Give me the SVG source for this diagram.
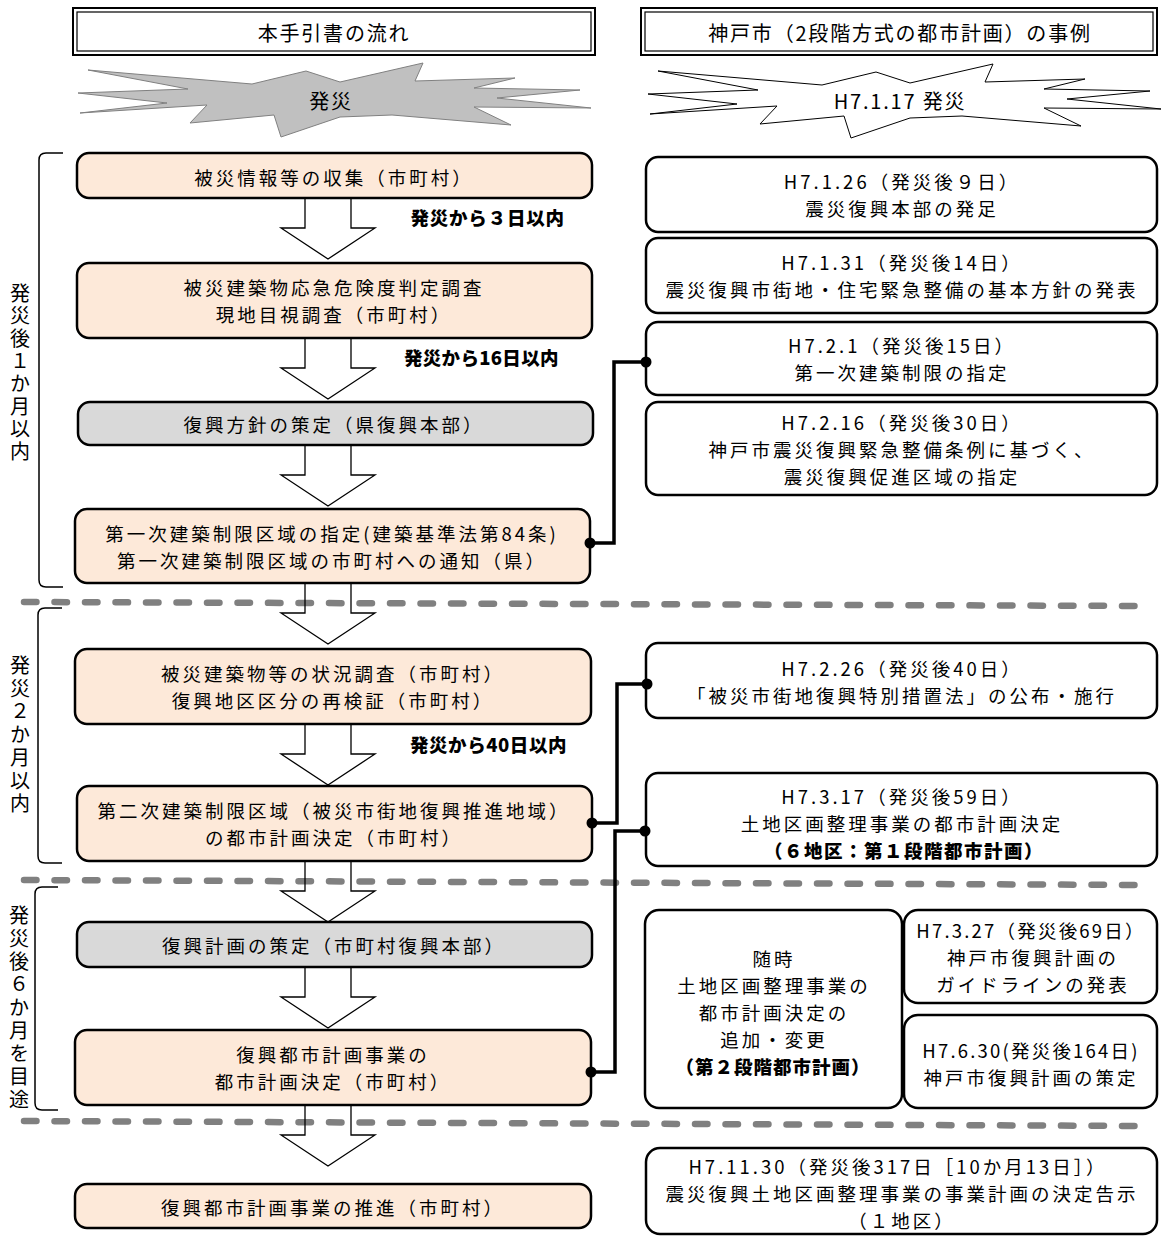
<svg xmlns="http://www.w3.org/2000/svg" width="1161" height="1236" viewBox="0 0 1161 1236">
<defs>
<style>
text { font-family: "Noto Sans CJK JP", "Noto Sans CJK SC", sans-serif; font-size: 18.5px; fill: #000; letter-spacing: 3px; }
.c { text-anchor: middle; dominant-baseline: central; }
.big { font-size: 20px; letter-spacing: 1.8px; }
.b { font-weight: 900; letter-spacing: 1.5px; }
.v { font-size: 20px; writing-mode: vertical-rl; text-orientation: upright; letter-spacing: 2.6px; }
.box { stroke: #000; stroke-width: 2.5; }
.peach { fill: #fde9d9; }
.gray { fill: #d9d9d9; }
.white { fill: #fff; }
.hdr { fill: #fff; stroke: #000; stroke-width: 2; }
.hdrin { fill: none; stroke: #000; stroke-width: 1.2; }
.arrow { fill: none; stroke: #000; stroke-width: 1.3; }
.dash { stroke: #808080; stroke-width: 6.5; stroke-dasharray: 12.5 18; stroke-linecap: round; fill: none; }
.conn { stroke: #000; stroke-width: 3.5; fill: none; }
.dot { fill: #000; }
.brk { stroke: #000; stroke-width: 1.5; fill: none; }
.stargray { fill: #c0c0c0; stroke: #808080; stroke-width: 1; }
.starwhite { fill: #fff; stroke: #000; stroke-width: 1; }
</style>
<polygon id="star" points="88,70 252,84 306,71 340,82 423,63 415,81 515,78 474,88 580,90 497,98 591,108 474,107 511,125 392,115 340,117 281,137 274,115 190,123 207,105 80,113 167,103 78,93 188,89"/>
<path id="arr" d="M-23,0 V30 H-47 L0,61 L47,30 H23 V0"/>
</defs>
<rect width="1161" height="1236" fill="#fff"/>

<!-- headers -->
<g id="header-left">
<rect class="hdr" x="73" y="8" width="522" height="47"/>
<rect class="hdrin" x="77" y="12" width="514" height="39"/>
<text class="c big" x="334" y="32">本手引書の流れ</text>
</g>
<g id="header-right">
<rect class="hdr" x="641" y="8" width="516" height="47"/>
<rect class="hdrin" x="645" y="12" width="508" height="39"/>
<text class="c big" x="900" y="32">神戸市（2段階方式の都市計画）の事例</text>
</g>

<!-- stars -->
<g id="star-left">
<use href="#star" class="stargray"/>
<text class="c big" x="331" y="100">発災</text>
</g>
<g id="star-right">
<use href="#star" class="starwhite" transform="translate(570,1)"/>
<text class="c big" x="900" y="100">H7.1.17 発災</text>
</g>

<!-- brackets -->
<g id="period-1">
<path class="brk" d="M63,153 H46 Q39,153 39,160 V580 Q39,587 46,587 H63"/>
<text class="v" x="20" y="283">発災後１か月以内</text>
</g>
<g id="period-2">
<path class="brk" d="M62,608 H45 Q38,608 38,615 V856 Q38,863 45,863 H62"/>
<text class="v" x="20" y="655" style="letter-spacing:3px">発災２か月以内</text>
</g>
<g id="period-3">
<path class="brk" d="M58,887 H42 Q35,887 35,894 V1103 Q35,1110 42,1110 H58"/>
<text class="v" x="19" y="905" style="letter-spacing:3px">発災後６か月を目途</text>
</g>

<!-- dashed separators -->
<g id="separators">
<path class="dash" d="M24,602 L1146,606"/>
<path class="dash" d="M24,880 L1146,885"/>
<path class="dash" d="M24,1121 L1146,1126"/>
</g>

<!-- left flow nodes -->
<g id="n1"><rect class="box peach" x="77" y="153" width="515" height="45" rx="12"/>
<text class="c" x="334" y="177">被災情報等の収集（市町村）</text></g>
<g id="n2"><rect class="box peach" x="77" y="263" width="515" height="75" rx="12"/>
<text class="c" x="334" y="287">被災建築物応急危険度判定調査</text>
<text class="c" x="334" y="314">現地目視調査（市町村）</text></g>
<g id="n3"><rect class="box gray" x="78" y="402" width="515" height="43" rx="12"/>
<text class="c" x="334" y="424">復興方針の策定（県復興本部）</text></g>
<g id="n4"><rect class="box peach" x="75" y="509" width="515" height="74" rx="12"/>
<text class="c" x="332" y="533">第一次建築制限区域の指定(建築基準法第84条)</text>
<text class="c" x="332" y="560">第一次建築制限区域の市町村への通知（県）</text></g>
<g id="n5"><rect class="box peach" x="75" y="649" width="516" height="75" rx="12"/>
<text class="c" x="333" y="673">被災建築物等の状況調査（市町村）</text>
<text class="c" x="333" y="700">復興地区区分の再検証（市町村）</text></g>
<g id="n6"><rect class="box peach" x="77" y="786" width="515" height="75" rx="12"/>
<text class="c" x="334" y="810">第二次建築制限区域（被災市街地復興推進地域）</text>
<text class="c" x="334" y="837">の都市計画決定（市町村）</text></g>
<g id="n7"><rect class="box gray" x="77" y="922" width="515" height="45" rx="12"/>
<text class="c" x="334" y="945">復興計画の策定（市町村復興本部）</text></g>
<g id="n8"><rect class="box peach" x="75" y="1030" width="516" height="75" rx="12"/>
<text class="c" x="333" y="1054">復興都市計画事業の</text>
<text class="c" x="333" y="1081">都市計画決定（市町村）</text></g>
<g id="n9"><rect class="box peach" x="75" y="1184" width="516" height="44" rx="12"/>
<text class="c" x="333" y="1207">復興都市計画事業の推進（市町村）</text></g>

<!-- deadline labels -->
<g id="label-3days"><text class="c b" x="488" y="217" textLength="155" lengthAdjust="spacing">発災から３日以内</text></g>
<g id="label-16days"><text class="c b" x="482" y="357" textLength="156" lengthAdjust="spacing">発災から16日以内</text></g>
<g id="label-40days"><text class="c b" x="489" y="744" textLength="158" lengthAdjust="spacing">発災から40日以内</text></g>

<!-- right column nodes -->
<g id="r1"><rect class="box white" x="646" y="157" width="511" height="75" rx="12"/>
<text class="c" x="902" y="181">H7.1.26（発災後９日）</text>
<text class="c" x="902" y="208">震災復興本部の発足</text></g>
<g id="r2"><rect class="box white" x="646" y="238" width="511" height="75" rx="12"/>
<text class="c" x="902" y="262">H7.1.31（発災後14日）</text>
<text class="c" x="902" y="289">震災復興市街地・住宅緊急整備の基本方針の発表</text></g>
<g id="r3"><rect class="box white" x="646" y="322" width="511" height="73" rx="12"/>
<text class="c" x="902" y="345">H7.2.1（発災後15日）</text>
<text class="c" x="902" y="372">第一次建築制限の指定</text></g>
<g id="r4"><rect class="box white" x="646" y="402" width="511" height="93" rx="12"/>
<text class="c" x="902" y="422">H7.2.16（発災後30日）</text>
<text class="c" x="902" y="449">神戸市震災復興緊急整備条例に基づく、</text>
<text class="c" x="902" y="476">震災復興促進区域の指定</text></g>
<g id="r5"><rect class="box white" x="646" y="643" width="511" height="75" rx="12"/>
<text class="c" x="902" y="668">H7.2.26（発災後40日）</text>
<text class="c" x="902" y="695">「被災市街地復興特別措置法」の公布・施行</text></g>
<g id="r6"><rect class="box white" x="646" y="773" width="511" height="93" rx="12"/>
<text class="c" x="902" y="796">H7.3.17（発災後59日）</text>
<text class="c" x="902" y="823">土地区画整理事業の都市計画決定</text>
<text class="c b" x="904" y="850">（６地区：第１段階都市計画）</text></g>
<g id="r7"><rect class="box white" x="645" y="910" width="257" height="198" rx="14"/>
<text class="c" x="774" y="958">随時</text>
<text class="c" x="774" y="985">土地区画整理事業の</text>
<text class="c" x="774" y="1012">都市計画決定の</text>
<text class="c" x="774" y="1039">追加・変更</text>
<text class="c b" x="773" y="1066" style="letter-spacing:1px">（第２段階都市計画）</text></g>
<g id="r8"><rect class="box white" x="904" y="910" width="253" height="93" rx="14"/>
<text class="c" x="1031" y="930" style="letter-spacing:2.2px">H7.3.27（発災後69日）</text>
<text class="c" x="1033" y="957">神戸市復興計画の</text>
<text class="c" x="1033" y="984">ガイドラインの発表</text></g>
<g id="r9"><rect class="box white" x="904" y="1015" width="253" height="93" rx="14"/>
<text class="c" x="1031" y="1050" style="letter-spacing:2.2px">H7.6.30(発災後164日)</text>
<text class="c" x="1031" y="1077">神戸市復興計画の策定</text></g>
<g id="r10"><rect class="box white" x="646" y="1148" width="511" height="86" rx="14"/>
<text class="c" x="898" y="1166">H7.11.30（発災後317日［10か月13日］）</text>
<text class="c" x="902" y="1193">震災復興土地区画整理事業の事業計画の決定告示</text>
<text class="c" x="902" y="1220">（１地区）</text></g>

<!-- connectors -->
<g id="connectors">
<use href="#arr" class="arrow" x="328" y="198"/>
<use href="#arr" class="arrow" x="328" y="338"/>
<use href="#arr" class="arrow" x="328" y="445"/>
<use href="#arr" class="arrow" x="328" y="583"/>
<use href="#arr" class="arrow" x="328" y="724"/>
<use href="#arr" class="arrow" x="328" y="861"/>
<use href="#arr" class="arrow" x="328" y="967"/>
<use href="#arr" class="arrow" x="328" y="1105"/>
<path class="conn" d="M590,543 H614 V362 H646"/>
<circle class="dot" cx="590" cy="543" r="5.5"/>
<circle class="dot" cx="646" cy="362" r="5.5"/>
<path class="conn" d="M592,823 H617 V684 H647"/>
<circle class="dot" cx="592" cy="823" r="5.5"/>
<circle class="dot" cx="647" cy="684" r="5.5"/>
<path class="conn" d="M591,1072 H615 V831 H645"/>
<circle class="dot" cx="591" cy="1072" r="5.5"/>
<circle class="dot" cx="645" cy="831" r="5.5"/>
</g>
</svg>
